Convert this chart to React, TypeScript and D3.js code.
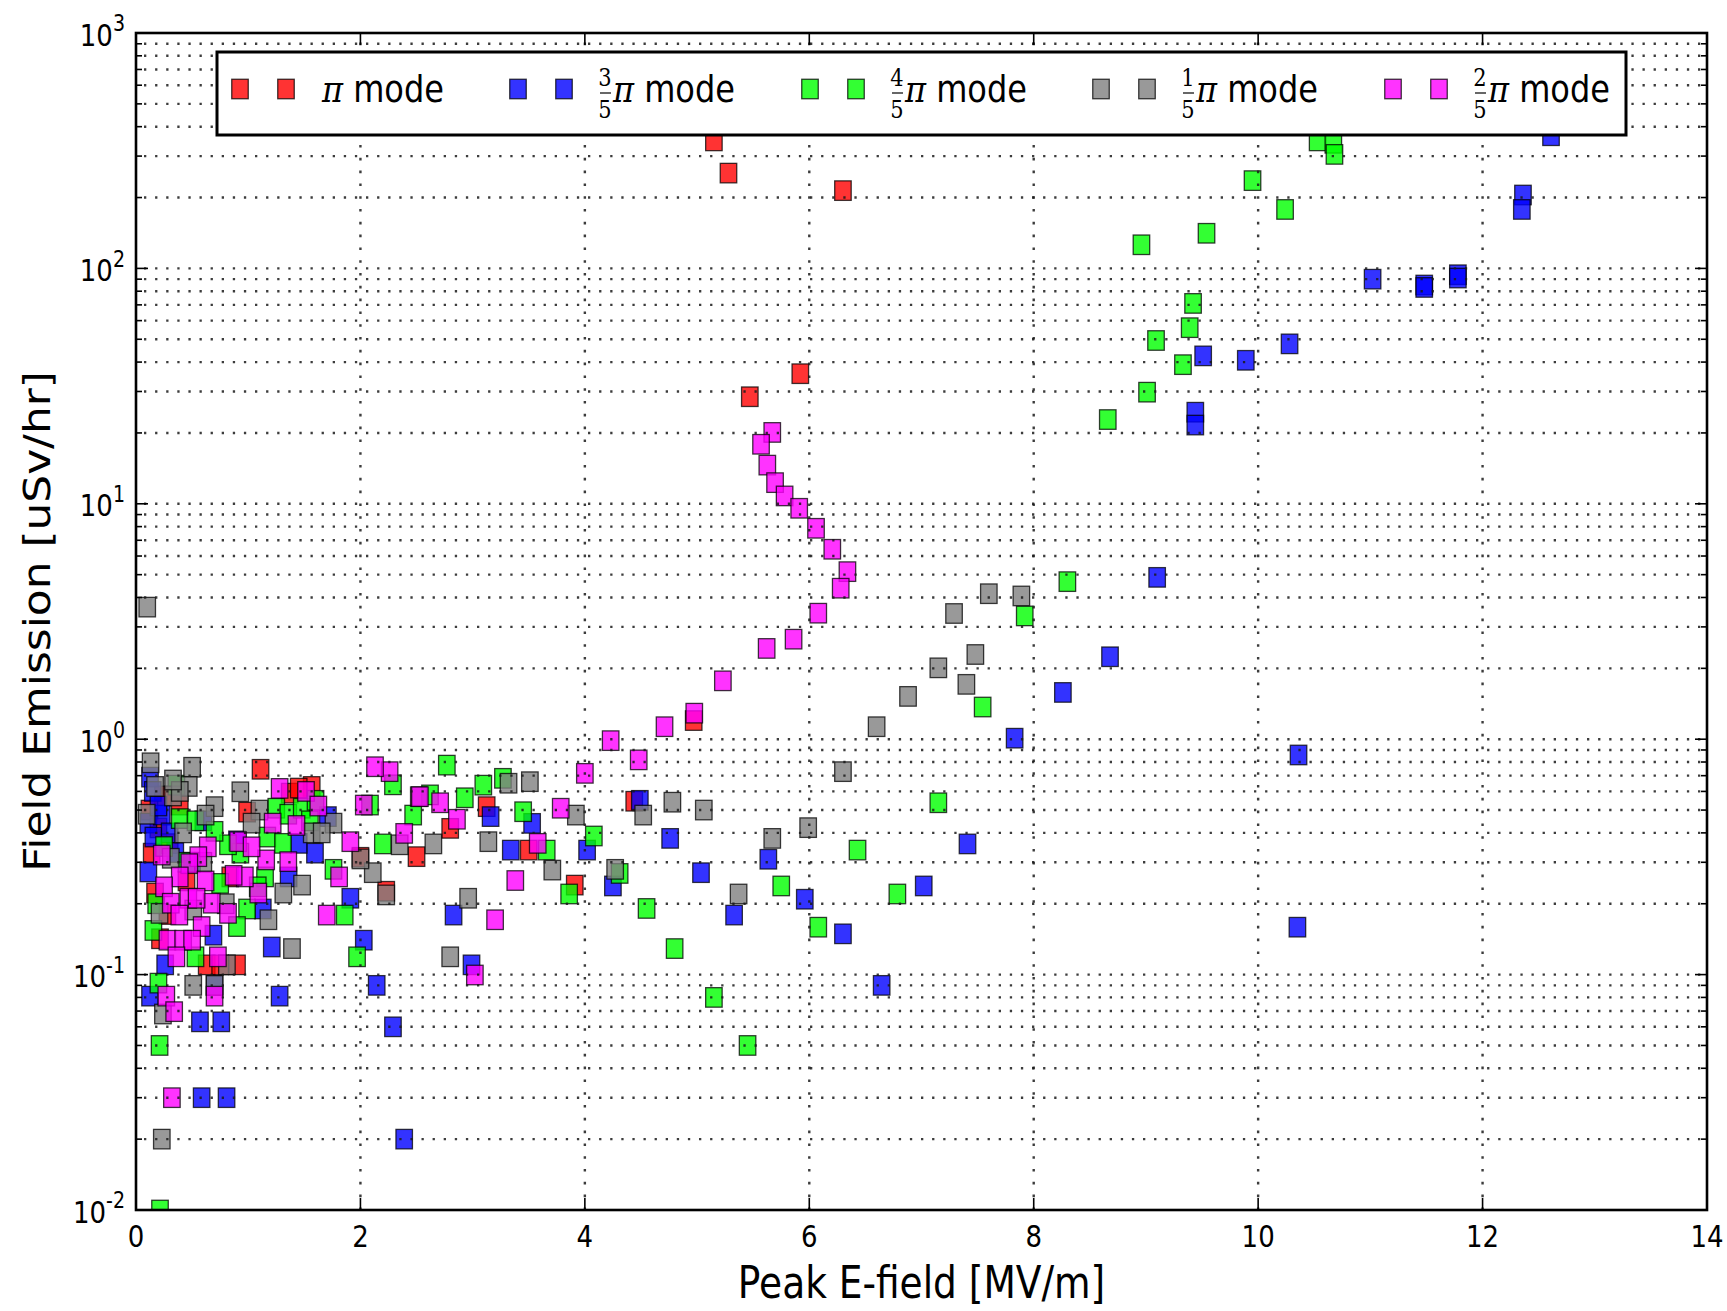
import React from 'react';
import * as d3 from 'd3';

const W = 1727;
const H = 1311;
const PL = 136, PR = 1707, PT = 33, PB = 1210;
const SY = 1.17;

const xTickValues = [0, 2, 4, 6, 8, 10, 12, 14];
const yTickExponents = [-2, -1, 0, 1, 2, 3];

// π mode (red)
const piX = [5.15, 5.28, 6.30, 5.47, 5.92, 4.97, 1.11, 4.44, 2.50, 2.80, 3.125, 3.50, 3.91, 2.23, 2.0, 0.14, 0.17, 0.214, 0.24, 0.39, 0.99, 1.37, 1.566, 0.84, 0.63, 0.90, 0.12, 0.2, 0.3, 0.45, 0.28, 1.45, 0.75];
const piY = [348, 254, 214, 28.5, 35.7, 1.2, 0.745, 0.545, 0.317, 0.418, 0.517, 0.338, 0.240, 0.226, 0.315, 0.328, 0.222, 0.142, 0.574, 0.525, 0.49, 0.59, 0.63, 0.26, 0.11, 0.11, 0.5, 0.42, 0.36, 0.25, 0.18, 0.62, 0.11];

// 3/5 π mode (blue)
const p35X = [12.61, 12.36, 12.35, 11.02, 11.48, 11.48, 11.78, 11.78, 9.51, 9.89, 10.28, 9.44, 9.44, 9.10, 8.68, 8.26, 7.83, 10.36, 10.35, 7.41, 7.02, 6.645, 6.30, 5.96, 5.635, 5.33, 5.035, 4.76, 4.49, 4.25, 4.02, 3.53, 3.34, 3.16, 2.83, 2.99, 2.29, 2.39, 2.145, 2.03, 1.91, 1.71, 1.595, 1.45, 1.36, 1.13, 1.21, 1.28, 0.69, 0.26, 0.125, 0.57, 0.76, 0.585, 0.807, 0.11, 0.155, 0.11, 0.23, 0.125, 0.15, 0.2, 0.3, 0.5, 0.7, 0.35, 0.6, 0.9];
const p35Y = [366, 205, 178, 90, 85, 83, 94, 91, 42.5, 40.7, 47.8, 24.5, 21.6, 4.87, 2.24, 1.58, 1.01, 0.857, 0.159, 0.359, 0.238, 0.09, 0.149, 0.209, 0.309, 0.179, 0.271, 0.379, 0.55, 0.238, 0.338, 0.439, 0.338, 0.469, 0.179, 0.11, 0.06, 0.02, 0.09, 0.14, 0.211, 0.469, 0.328, 0.361, 0.26, 0.19, 0.131, 0.081, 0.147, 0.11, 0.081, 0.063, 0.063, 0.03, 0.03, 0.44, 0.384, 0.273, 0.476, 0.69, 0.6, 0.52, 0.4, 0.3, 0.09, 0.33, 0.45, 0.37];

// 4/5 π mode (green)
const p45X = [10.53, 10.67, 10.68, 9.95, 10.24, 8.96, 9.54, 9.42, 9.09, 9.39, 9.33, 9.01, 8.66, 8.30, 7.92, 7.545, 7.15, 6.43, 6.08, 5.75, 6.785, 5.45, 5.15, 4.80, 4.55, 4.31, 4.08, 3.86, 3.66, 3.45, 3.27, 3.095, 2.93, 2.77, 2.62, 2.47, 2.29, 2.20, 2.085, 1.97, 1.86, 1.76, 1.25, 1.357, 1.477, 1.17, 1.31, 1.15, 1.085, 0.99, 0.90, 0.93, 0.82, 0.70, 0.75, 0.53, 0.20, 0.21, 0.214, 0.155, 0.18, 0.39, 0.53, 0.36, 0.25, 0.45, 1.6, 1.55];
const p45Y = [348, 340, 305, 236, 178, 126, 141, 71, 49.4, 56, 39, 29.8, 22.8, 4.67, 3.34, 1.37, 0.537, 0.338, 0.159, 0.238, 0.22, 0.05, 0.08, 0.129, 0.191, 0.269, 0.388, 0.22, 0.338, 0.492, 0.682, 0.638, 0.564, 0.776, 0.58, 0.476, 0.64, 0.359, 0.525, 0.119, 0.179, 0.28, 0.509, 0.48, 0.509, 0.384, 0.361, 0.26, 0.236, 0.19, 0.16, 0.328, 0.356, 0.406, 0.244, 0.119, 0.092, 0.05, 0.01, 0.154, 0.20, 0.46, 0.45, 0.638, 0.35, 0.3, 0.55, 0.45];

// 1/5 π mode (gray)
const p15X = [7.60, 7.89, 7.29, 7.48, 7.15, 7.40, 6.88, 6.60, 6.30, 5.99, 5.67, 5.37, 5.06, 4.78, 4.52, 4.27, 3.92, 3.71, 3.51, 3.32, 3.14, 2.96, 2.80, 2.65, 2.35, 2.52, 2.23, 2.11, 2.0, 1.76, 1.566, 1.655, 1.48, 1.313, 1.39, 1.18, 1.10, 1.03, 0.93, 0.70, 0.62, 0.13, 0.50, 0.17, 0.47, 0.33, 0.39, 0.33, 0.095, 0.42, 0.31, 0.21, 0.51, 0.81, 0.51, 0.70, 0.24, 0.23, 0.10, 0.8, 0.6];
const p15Y = [4.15, 4.06, 3.42, 2.29, 2.01, 1.71, 1.52, 1.13, 0.728, 0.421, 0.379, 0.22, 0.50, 0.54, 0.476, 0.28, 0.476, 0.278, 0.66, 0.65, 0.367, 0.211, 0.119, 0.359, 0.356, 0.57, 0.218, 0.271, 0.31, 0.44, 0.40, 0.40, 0.24, 0.222, 0.129, 0.171, 0.50, 0.44, 0.598, 0.517, 0.476, 0.794, 0.76, 0.63, 0.63, 0.574, 0.60, 0.671, 0.48, 0.40, 0.312, 0.182, 0.188, 0.11, 0.09, 0.09, 0.068, 0.02, 3.64, 0.2, 0.3];

// 2/5 π mode (magenta)
const p25X = [5.67, 5.57, 5.626, 5.695, 5.78, 5.91, 6.06, 6.205, 6.34, 6.28, 6.08, 5.86, 5.62, 5.23, 4.975, 4.71, 4.48, 4.23, 4.00, 3.785, 3.38, 3.58, 3.20, 3.02, 2.86, 2.71, 2.53, 2.39, 2.26, 2.13, 2.03, 1.91, 1.81, 1.70, 1.515, 1.625, 1.28, 1.218, 1.43, 1.357, 1.16, 1.09, 0.97, 0.87, 0.91, 1.03, 0.64, 0.555, 0.475, 0.23, 0.39, 0.25, 0.62, 0.675, 0.31, 0.466, 0.54, 0.386, 0.82, 0.585, 0.28, 0.42, 0.50, 0.36, 0.73, 0.27, 0.70, 0.34, 0.32];
const p25Y = [20.1, 17.9, 14.6, 12.3, 10.8, 9.57, 7.87, 6.41, 5.15, 4.38, 3.43, 2.66, 2.43, 1.77, 1.29, 1.13, 0.817, 0.986, 0.716, 0.509, 0.251, 0.361, 0.171, 0.0996, 0.457, 0.537, 0.57, 0.398, 0.728, 0.764, 0.525, 0.367, 0.26, 0.179, 0.60, 0.52, 0.618, 0.44, 0.43, 0.302, 0.307, 0.222, 0.26, 0.264, 0.367, 0.349, 0.349, 0.317, 0.296, 0.322, 0.26, 0.236, 0.25, 0.201, 0.201, 0.211, 0.211, 0.179, 0.182, 0.16, 0.14, 0.14, 0.14, 0.119, 0.119, 0.081, 0.081, 0.0696, 0.03];

const seriesX = [piX, p35X, p45X, p15X, p25X];
const seriesY = [piY, p35Y, p45Y, p15Y, p25Y];
const seriesColors = ['#ff0000', '#0000ff', '#00ff00', '#808080', '#ff00ff'];
const seriesNumerators = ['', '3', '4', '1', '2'];
const legendMarkerX = [240, 518, 810, 1101, 1393];

const MW = 16.5;
const MH = 19.5;

function Marker({ cx, cy, color }: { cx: number; cy: number; color: string }) {
  return (
    <rect
      x={cx - MW / 2}
      y={cy - MH / 2}
      width={MW}
      height={MH}
      fill={color}
      fillOpacity={0.8}
      stroke="#000"
      strokeOpacity={0.75}
      strokeWidth={1.3}
    />
  );
}

export default function App() {
  const x = d3.scaleLinear().domain([0, 14]).range([PL, PR]);
  const y = d3.scaleLog().domain([0.01, 1000]).range([PB, PT]);

  const minorY: number[] = [];
  for (let e = -2; e <= 2; e++) {
    for (let m = 2; m <= 9; m++) minorY.push(m * Math.pow(10, e));
  }
  const majorY = yTickExponents.map((e) => Math.pow(10, e));

  const sans = "'DejaVu Sans', sans-serif";
  const serif = "'DejaVu Serif', serif";

  return (
    <svg
      width={W}
      height={H}
      style={{ position: 'absolute', left: 0, top: 0, background: '#fff' }}
      xmlns="http://www.w3.org/2000/svg"
    >
      <rect x={0} y={0} width={W} height={H} fill="#fff" />
      <defs>
        <clipPath id="plotclip">
          <rect x={PL} y={PT} width={PR - PL} height={PB - PT} />
        </clipPath>
      </defs>

      {/* markers */}
      <g clipPath="url(#plotclip)">
        {seriesX.map((xs, si) => (
          <g key={si}>
            {xs.map((xv, i) => (
              <Marker key={i} cx={x(xv)} cy={y(seriesY[si][i])} color={seriesColors[si]} />
            ))}
          </g>
        ))}
      </g>

      {/* grid */}
      <g stroke="#1a1a1a" strokeWidth={2.4} fill="none" strokeOpacity={0.85}>
        {[...majorY, ...minorY]
          .filter((v) => v > 0.01 && v < 1000)
          .map((v, i) => (
            <line key={'gy' + i} x1={PL} x2={PR} y1={y(v)} y2={y(v)} strokeDasharray="2.3 8.8" strokeDashoffset={-8} />
          ))}
        {xTickValues
          .filter((v) => v > 0 && v < 14)
          .map((v, i) => (
            <line key={'gx' + i} x1={x(v)} x2={x(v)} y1={PB} y2={PT} strokeDasharray="2.6 10.2" />
          ))}
      </g>

      {/* ticks */}
      <g stroke="#000" strokeWidth={1.6}>
        {xTickValues.map((v, i) => (
          <g key={'tx' + i}>
            <line x1={x(v)} x2={x(v)} y1={PB} y2={PB - 12} />
            <line x1={x(v)} x2={x(v)} y1={PT} y2={PT + 12} />
          </g>
        ))}
        {majorY.map((v, i) => (
          <g key={'ty' + i}>
            <line x1={PL} x2={PL + 12} y1={y(v)} y2={y(v)} />
            <line x1={PR} x2={PR - 12} y1={y(v)} y2={y(v)} />
          </g>
        ))}
        {minorY.map((v, i) => (
          <g key={'tym' + i}>
            <line x1={PL} x2={PL + 6} y1={y(v)} y2={y(v)} />
            <line x1={PR} x2={PR - 6} y1={y(v)} y2={y(v)} />
          </g>
        ))}
      </g>

      {/* frame */}
      <rect x={PL} y={PT} width={PR - PL} height={PB - PT} fill="none" stroke="#000" strokeWidth={2.6} />

      {/* x tick labels */}
      {xTickValues.map((v, i) => (
        <text
          key={'lx' + i}
          transform={`translate(${x(v)},${PB + 37}) scale(1,${SY})`}
          textAnchor="middle"
          fontFamily={sans}
          fontSize={26}
          fill="#000"
        >
          {v}
        </text>
      ))}

      {/* y tick labels */}
      {yTickExponents.map((e, i) => (
        <text
          key={'ly' + i}
          transform={`translate(125,${y(Math.pow(10, e)) + 12.5}) scale(1,${SY})`}
          textAnchor="end"
          fontFamily={sans}
          fontSize={26}
          fill="#000"
        >
          10
          <tspan fontSize={19} dy={-12}>
            {e < 0 ? '-' + Math.abs(e) : String(e)}
          </tspan>
        </text>
      ))}

      {/* axis labels */}
      <text
        transform={`translate(${(PL + PR) / 2},1298) scale(1,${SY})`}
        textAnchor="middle"
        fontFamily={sans}
        fontSize={37.5}
        fill="#000"
      >
        Peak E-field [MV/m]
      </text>
      <text
        transform={`translate(50,${(PT + PB) / 2}) scale(1,${SY}) rotate(-90)`}
        textAnchor="middle"
        fontFamily={sans}
        fontSize={37.5}
        fill="#000"
      >
        Field Emission [uSv/hr]
      </text>

      {/* legend */}
      <g>
        <rect x={217} y={52} width={1626 - 217} height={135 - 52} fill="#fff" stroke="#000" strokeWidth={3} />
        {seriesColors.map((c, si) => {
          const mx = legendMarkerX[si];
          const num = seriesNumerators[si];
          const textStart = num ? mx + 95 : mx + 82;
          return (
            <g key={'lg' + si}>
              <Marker cx={mx} cy={89} color={c} />
              <Marker cx={mx + 46} cy={89} color={c} />
              {num && (
                <g>
                  <text
                    transform={`translate(${mx + 87},${86}) scale(1,${SY})`}
                    textAnchor="middle"
                    fontFamily={serif}
                    fontSize={21}
                    fill="#000"
                  >
                    {num}
                  </text>
                  <line x1={mx + 82} x2={mx + 93} y1={93} y2={93} stroke="#000" strokeWidth={1.2} />
                  <text
                    transform={`translate(${mx + 87},${118}) scale(1,${SY})`}
                    textAnchor="middle"
                    fontFamily={serif}
                    fontSize={21}
                    fill="#000"
                  >
                    5
                  </text>
                </g>
              )}
              <text
                transform={`translate(${textStart},102) scale(1,${SY})`}
                fontFamily={sans}
                fontSize={32}
                fill="#000"
              >
                <tspan fontFamily={serif} fontStyle="italic">
                  π
                </tspan>
                <tspan> mode</tspan>
              </text>
            </g>
          );
        })}
      </g>
    </svg>
  );
}
